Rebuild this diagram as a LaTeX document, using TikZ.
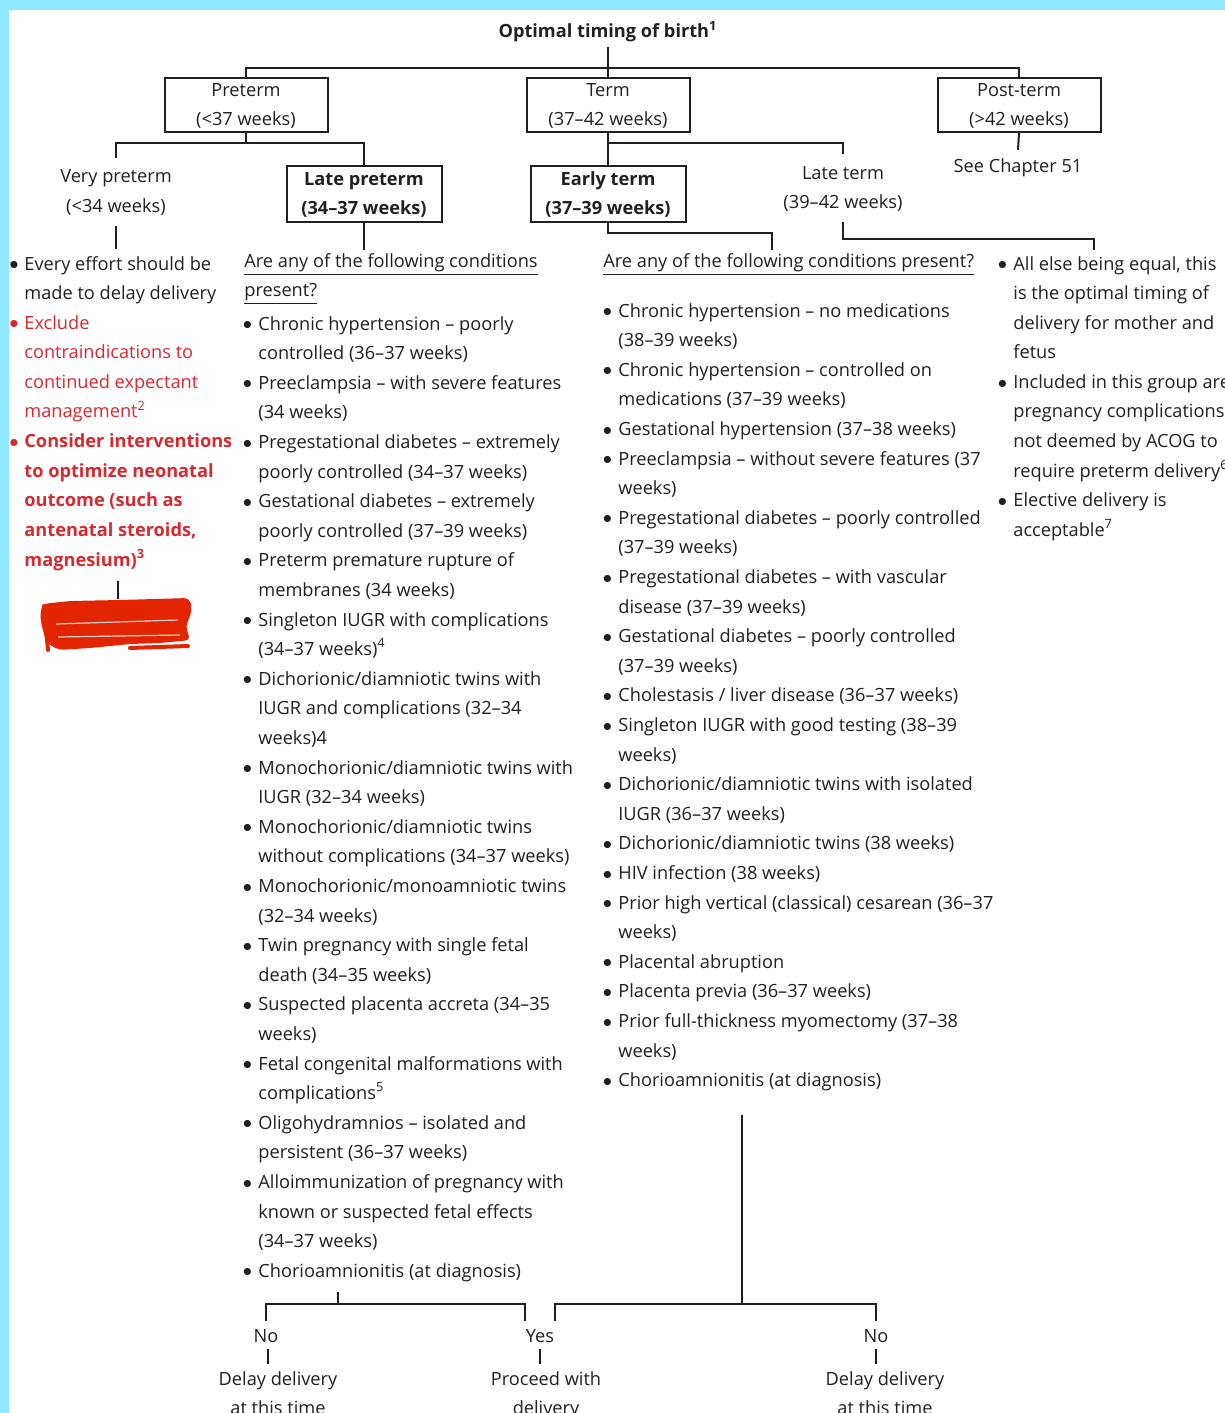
\documentclass[tikz,border=0pt]{standalone}
\usepackage{fontspec}
\setmainfont{Open Sans}
\definecolor{txt}{HTML}{231F20}
\definecolor{redt}{HTML}{D42A30}
\definecolor{sky}{HTML}{8EE8FF}
\definecolor{scrib}{HTML}{E32400}
\newcommand\dotb{\raisebox{0.2pt}{$\bullet$}}
\newcommand\bl{\makebox[5.5pt][l]{\hspace*{-2.3pt}\dotb}}
\newcommand\blw{\makebox[7pt][l]{\hspace*{-0.5pt}\dotb}}
\newcommand\ind{\hspace*{5.5pt}}
\newcommand\indw{\hspace*{7pt}}
\newcommand\R{\color{redt}}
\newcommand\lst[1]{\begin{tabular}[t]{@{}l@{}}#1\end{tabular}}
\newcommand\clst[1]{\begin{tabular}[t]{@{}c@{}}#1\end{tabular}}
\newcommand\bxt[1]{\smash{\raisebox{4.5pt}{\clst{#1}}}}
\newcommand\myfont{\fontsize{9.1}{14.8}\selectfont}
\begin{document}
\begin{tikzpicture}[x=0.5pt,y=-0.5pt,
  every node/.style={font=\myfont, text=txt},
  conn/.style={draw=txt, line width=1pt},
  tbox/.style={draw=txt, line width=1pt, minimum width=81.5pt, minimum height=27pt, inner sep=0pt},
  bbox/.style={tbox, font=\myfont\bfseries, minimum width=77.5pt, minimum height=28pt},
  lab/.style={anchor=base, inner sep=0pt},
  lst/.style={anchor=base west, inner sep=0pt}]
\useasboundingbox (0,0) rectangle (1225,1413);
\fill[white] (0,0) rectangle (1225,1413);
\fill[sky] (0,0) rectangle (1225,10);
\fill[sky] (0,0) rectangle (9,1413);

% top level
\node[lab, font=\myfont\bfseries] (title) at (608,38) {Optimal timing of birth\textsuperscript{1}};
\node[tbox] (pre) at (246,105) {\bxt{Preterm\\(<37 weeks)}};
\node[tbox] (term) at (608,105) {\bxt{Term\\(37–42 weeks)}};
\node[tbox] (post) at (1019,105) {\bxt{Post-term\\(>42 weeks)}};
\coordinate (j0) at (608,68);
\draw[conn] ([yshift=-2pt]title.south) -- (j0);
\draw[conn] (pre.north) |- (j0) -| (post.north);
\draw[conn] (j0) -- (term.north);

% second level
\node[lab] (vpre) at (116,183) {\clst{Very preterm\\(<34 weeks)}};
\node[bbox] (lpre) at (364,194) {\bxt{Late preterm\\(34–37 weeks)}};
\coordinate (j1) at (246,143);
\draw[conn] (pre.south) -- (j1);
\draw[conn] ([yshift=2pt]vpre.north) |- (j1) -| (lpre.north);

\node[bbox] (eterm) at (608,194) {\bxt{Early term\\(37–39 weeks)}};
\node[lab] (lterm) at (843,179) {\clst{Late term\\(39–42 weeks)}};
\coordinate (j2) at (608,143);
\draw[conn] (term.south) -- (eterm.north);
\draw[conn] (j2) -| ([yshift=2pt]lterm.north);

\node[lab] (seech) at (1018,172) {See Chapter 51};
\draw[conn] (post.south) -- ([yshift=4pt]seech.north);

% left list
\node[lst] (llist) at (10,270) {\lst{%
\blw Every effort should be\\
\indw made to delay delivery\\
\R\blw Exclude\\
\R\indw contraindications to\\
\R\indw continued expectant\\
\R\indw management\textsuperscript{2}\\
\R\bfseries\blw Consider interventions\\
\R\bfseries\indw to optimize neonatal\\
\R\bfseries\indw outcome (such as\\
\R\bfseries\indw antenatal steroids,\\
\R\bfseries\indw magnesium)\textsuperscript{3}}};
\draw[conn] ([yshift=-2pt]vpre.south) -- (vpre.south |- llist.north);
\coordinate (sc) at (118,599);
\draw[conn] ([yshift=-3pt]llist.south -| sc) -- (sc);
\fill[scrib, rounded corners=3pt] (42,604) -- (70,601) -- (120,600) -- (190,598) -- (192,612) -- (187,622) -- (186,630) -- (191,640) -- (160,643) -- (130,644) -- (90,648) -- (58,650) -- (46,642) -- (43,630) -- (40,618) -- cycle;
\draw[scrib, line width=2pt, line cap=round] (44,606) -- (48,650);
\draw[scrib, line width=2pt, line cap=round] (130,648) -- (188,646);
\draw[white!80!scrib, line width=0.6pt] (56,624) -- (178,620);
\draw[white!80!scrib, line width=0.6pt] (58,637) -- (180,635);

% middle list
\node[lst] (mhead) at (244,267) {\lst{\underline{Are any of the following conditions}\\ \underline{present?}}};
\draw[conn] (lpre.south) -- ([yshift=-2pt]lpre.south |- mhead.north);
\node[lst] (mlist) at (247,330) {\lst{%
\bl Chronic hypertension – poorly\\
\ind controlled (36–37 weeks)\\
\bl Preeclampsia – with severe features\\
\ind (34 weeks)\\
\bl Pregestational diabetes – extremely\\
\ind poorly controlled (34–37 weeks)\\
\bl Gestational diabetes – extremely\\
\ind poorly controlled (37–39 weeks)\\
\bl Preterm premature rupture of\\
\ind membranes (34 weeks)\\
\bl Singleton IUGR with complications\\
\ind (34–37 weeks)\textsuperscript{4}\\
\bl Dichorionic/diamniotic twins with\\
\ind IUGR and complications (32–34\\
\ind weeks)4\\
\bl Monochorionic/diamniotic twins with\\
\ind IUGR (32–34 weeks)\\
\bl Monochorionic/diamniotic twins\\
\ind without complications (34–37 weeks)\\
\bl Monochorionic/monoamniotic twins\\
\ind (32–34 weeks)\\
\bl Twin pregnancy with single fetal\\
\ind death (34–35 weeks)\\
\bl Suspected placenta accreta (34–35\\
\ind weeks)\\
\bl Fetal congenital malformations with\\
\ind complications\textsuperscript{5}\\
\bl Oligohydramnios – isolated and\\
\ind persistent (36–37 weeks)\\
\bl Alloimmunization of pregnancy with\\
\ind known or suspected fetal effects\\
\ind (34–37 weeks)\\
\bl Chorioamnionitis (at diagnosis)}};

% right-middle list
\node[lst] (rhead) at (603,267) {\underline{Are any of the following conditions present?}};
\coordinate (c3) at (772,250);
\draw[conn] (eterm.south) -- ++(0,10) -| (c3);
\node[lst] (rlist) at (607,317) {\lst{%
\bl Chronic hypertension – no medications\\
\ind (38–39 weeks)\\
\bl Chronic hypertension – controlled on\\
\ind medications (37–39 weeks)\\
\bl Gestational hypertension (37–38 weeks)\\
\bl Preeclampsia – without severe features (37\\
\ind weeks)\\
\bl Pregestational diabetes – poorly controlled\\
\ind (37–39 weeks)\\
\bl Pregestational diabetes – with vascular\\
\ind disease (37–39 weeks)\\
\bl Gestational diabetes – poorly controlled\\
\ind (37–39 weeks)\\
\bl Cholestasis / liver disease (36–37 weeks)\\
\bl Singleton IUGR with good testing (38–39\\
\ind weeks)\\
\bl Dichorionic/diamniotic twins with isolated\\
\ind IUGR (36–37 weeks)\\
\bl Dichorionic/diamniotic twins (38 weeks)\\
\bl HIV infection (38 weeks)\\
\bl Prior high vertical (classical) cesarean (36–37\\
\ind weeks)\\
\bl Placental abruption\\
\bl Placenta previa (36–37 weeks)\\
\bl Prior full-thickness myomectomy (37–38\\
\ind weeks)\\
\bl Chorioamnionitis (at diagnosis)}};

% far right list
\coordinate (c4) at (1094,250);
\draw[conn] ([yshift=-2pt]lterm.south) -- ++(0,17) -| (c4);
\node[lst] (flist) at (1002,270) {\lst{%
\bl All else being equal, this\\
\ind is the optimal timing of\\
\ind delivery for mother and\\
\ind fetus\\
\bl Included in this group are\\
\ind pregnancy complications\\
\ind not deemed by ACOG to\\
\ind require preterm delivery\textsuperscript{6}\\
\bl Elective delivery is\\
\ind acceptable\textsuperscript{7}}};

% bottom
\node[lab] (no1) at (266,1342) {No};
\node[lab] (yes) at (540,1342) {Yes};
\node[lab] (no2) at (876,1342) {No};
\coordinate (mb) at (338,1304);
\draw[conn] ([yshift=-3pt]mb |- mlist.south) -- (mb);
\draw[conn] ([yshift=4pt]no1.north) |- (mb) -| ([xshift=-7.5pt,yshift=4pt]yes.north);
\coordinate (rt) at (742,1115);
\coordinate (rb) at (742,1304);
\draw[conn] (rt) -- (rb);
\draw[conn] ([xshift=7.5pt,yshift=4pt]yes.north) |- (rb) -| ([yshift=4pt]no2.north);

\node[lab] (d1) at (278,1385) {\clst{Delay delivery\\at this time}};
\node[lab] (d2) at (546,1385) {\clst{Proceed with\\delivery}};
\node[lab] (d3) at (885,1385) {\clst{Delay delivery\\at this time}};
\draw[conn] ([xshift=1pt,yshift=-3pt]no1.south) -- ([xshift=1pt]no1.south |- d1.north);
\draw[conn] ([yshift=-3pt]yes.south) -- (yes.south |- d2.north);
\draw[conn] ([yshift=-3pt]no2.south) -- (no2.south |- d3.north);
\end{tikzpicture}
\end{document}
